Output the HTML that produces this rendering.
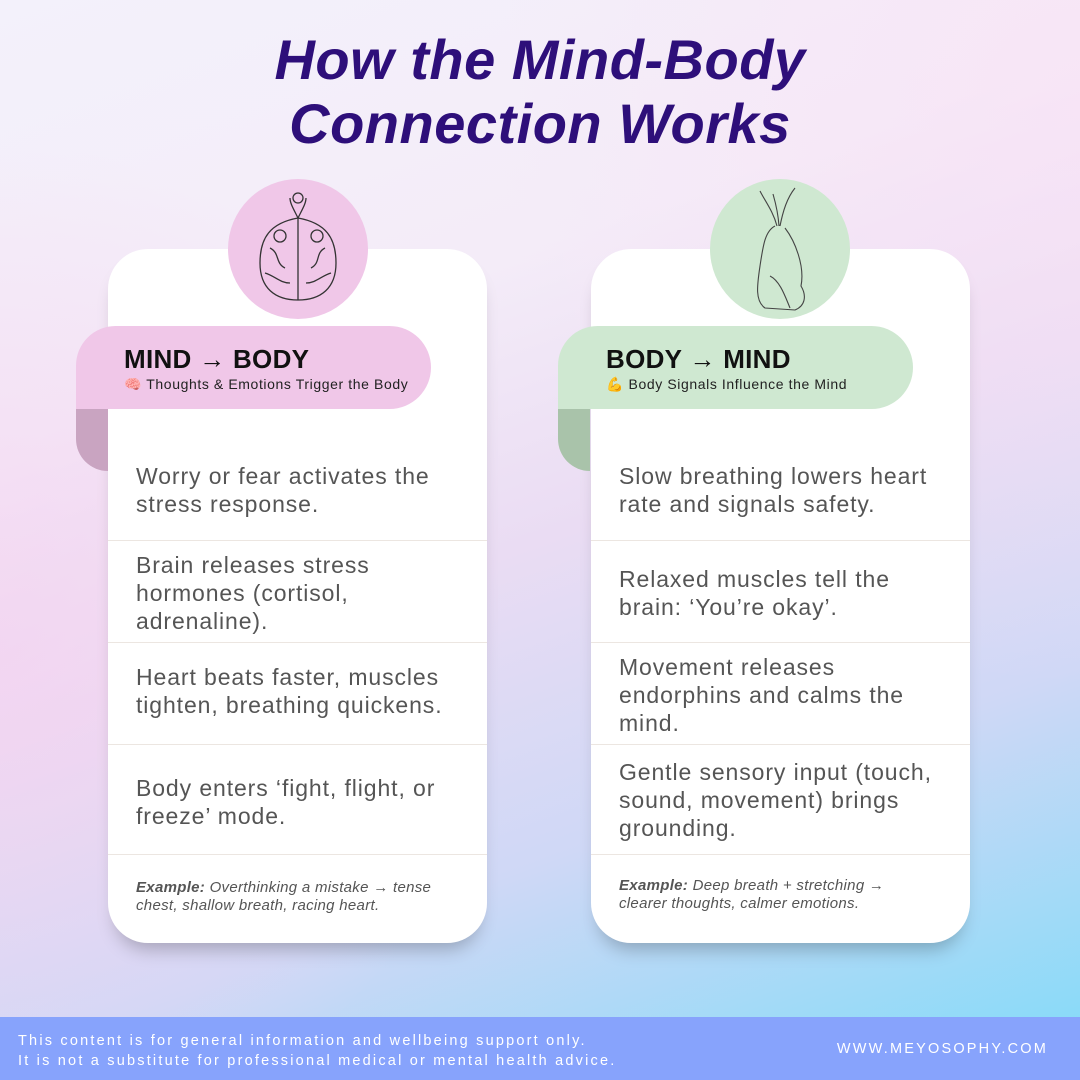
<!DOCTYPE html>
<html><head><meta charset="utf-8"><style>
*{margin:0;padding:0;box-sizing:border-box}
body{width:1080px;height:1080px;position:relative;overflow:hidden;font-family:"Liberation Sans","Noto Sans CJK SC",sans-serif;
background:linear-gradient(160deg,#f3f1fb 0%,#f4ecf8 30%,#eadcf3 50%,#cfd8f6 72%,#7edbf8 100%);}
.glow{position:absolute;inset:0;background:radial-gradient(circle at 0% 60%,rgba(245,210,240,.7),rgba(245,210,240,0) 40%),radial-gradient(circle at 100% 10%,rgba(250,225,245,.6),rgba(0,0,0,0) 40%)}
h1{position:absolute;top:28px;left:0;width:1080px;text-align:center;color:#2e0f7a;font-style:italic;font-weight:bold;font-size:56px;line-height:64px;letter-spacing:0.5px}
.card{position:absolute;top:249px;width:379px;height:694px;background:#fff;border-radius:40px;box-shadow:0 14px 18px -8px rgba(0,0,0,.25)}
.circ{position:absolute;top:179px;width:140px;height:140px;border-radius:50%}
.rib{position:absolute;top:326px;height:83px;border-radius:40px 42px 42px 0}
.fold{position:absolute;top:409px;width:32px;height:62px;border-radius:0 0 0 32px}
.rib b{position:absolute;left:48px;top:18px;font-size:26px;color:#111;letter-spacing:0.3px}
.rib span{position:absolute;left:48px;top:50px;font-size:14px;color:#222;letter-spacing:0.6px;white-space:nowrap}
.row{position:absolute;width:379px;border-top:1px solid #ece6e1;font-size:23px;line-height:28px;color:#555;padding-left:28px;letter-spacing:0.9px;white-space:nowrap}
.ex{position:absolute;font-size:15px;line-height:18px;color:#555;font-style:italic;padding-left:28px;letter-spacing:0.3px;white-space:nowrap}
.foot{position:absolute;left:0;top:1017px;width:1080px;height:63px;background:#87a3fc;color:#fff;font-size:14.5px;letter-spacing:2.2px}
</style></head><body><div class="glow"></div>
<h1>How the Mind-Body<br>Connection Works</h1>

<div class="card" style="left:108px"></div>
<div class="circ" style="left:228px;background:#f0c7e8"></div>
<svg style="position:absolute;left:255px;top:188px" width="86" height="115" viewBox="0 0 86 115" fill="none" stroke="#333" stroke-width="1.3">
<path d="M43 112 C20 112 5 100 5 75 C5 50 15 35 43 30 C71 35 81 50 81 75 C81 100 66 112 43 112Z"/><path d="M43 30 V112 M43 30 C38 20 35 15 35 10 M43 30 C48 20 51 15 51 10"/><circle cx="43" cy="10" r="5"/><path d="M15 60 C25 65 20 75 30 80 M70 60 C60 65 66 75 56 80 M10 85 C20 88 25 95 35 95 M76 85 C66 88 61 95 51 95"/><circle cx="25" cy="48" r="6"/><circle cx="62" cy="48" r="6"/></svg>
<div class="fold" style="left:76px;background:#c9a4c1"></div>
<div class="rib" style="left:76px;width:355px;background:#f0c7e8"><b>MIND → BODY</b><span>🧠 Thoughts &amp; Emotions Trigger the Body</span></div>
<div class="row" style="left:108px;top:462px;border:none">Worry or fear activates the<br>stress response.</div>
<div class="row" style="left:108px;top:540px;padding-top:10px">Brain releases stress<br>hormones (cortisol,<br>adrenaline).</div>
<div class="row" style="left:108px;top:642px;padding-top:20px">Heart beats faster, muscles<br>tighten, breathing quickens.</div>
<div class="row" style="left:108px;top:744px;padding-top:29px;height:110px">Body enters ‘fight, flight, or<br>freeze’ mode.</div>
<div class="row" style="left:108px;top:854px;height:1px"></div>
<div class="ex" style="left:108px;top:879px"><b>Example:</b> Overthinking a mistake → tense<br>chest, shallow breath, racing heart.</div>

<div class="card" style="left:591px"></div>
<div class="circ" style="left:710px;background:#cfe8d1"></div>
<svg style="position:absolute;left:745px;top:186px" width="70" height="128" viewBox="0 0 70 128" fill="none" stroke="#444" stroke-width="1.1">
<path d="M30 40 C20 45 18 60 15 80 C12 100 10 115 20 122 L50 124 C60 120 62 110 56 100 C60 80 50 55 40 42"/><path d="M32 40 C28 25 20 15 15 5 M35 40 C38 25 42 12 50 2 M34 40 C33 25 30 15 28 8"/><path d="M25 90 C35 95 40 110 45 122"/></svg>
<div class="fold" style="left:558px;background:#a9c3aa"></div>
<div class="rib" style="left:558px;width:355px;background:#cfe8d1"><b>BODY → MIND</b><span>💪 Body Signals Influence the Mind</span></div>
<div class="row" style="left:591px;top:462px;border:none">Slow breathing lowers heart<br>rate and signals safety.</div>
<div class="row" style="left:591px;top:540px;padding-top:24px">Relaxed muscles tell the<br>brain: ‘You’re okay’.</div>
<div class="row" style="left:591px;top:642px;padding-top:10px">Movement releases<br>endorphins and calms the<br>mind.</div>
<div class="row" style="left:591px;top:744px;padding-top:13px;height:110px">Gentle sensory input (touch,<br>sound, movement) brings<br>grounding.</div>
<div class="row" style="left:591px;top:854px;height:1px"></div>
<div class="ex" style="left:591px;top:877px"><b>Example:</b> Deep breath + stretching →<br>clearer thoughts, calmer emotions.</div>

<div class="foot"><div style="position:absolute;left:18px;top:14px;line-height:20px">This content is for general information and wellbeing support only.<br>It is not a substitute for professional medical or mental health advice.</div><div style="position:absolute;right:32px;top:24px">WWW.MEYOSOPHY.COM</div></div>
</body></html>
